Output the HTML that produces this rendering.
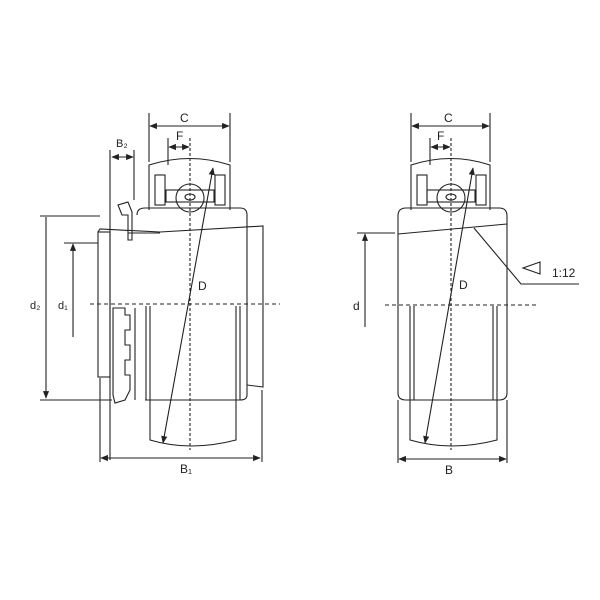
<!DOCTYPE html>
<html><head><style>body{margin:0;background:#fff}svg{display:block}text{font-family:"Liberation Sans",sans-serif;fill:#222}</style></head><body>
<svg width="600" height="600" viewBox="0 0 600 600" xmlns="http://www.w3.org/2000/svg" fill="none" stroke="#222" stroke-width="1.1">
<defs><marker id="a" viewBox="0 0 10 10" refX="9" refY="5" markerWidth="7" markerHeight="7" orient="auto-start-reverse"><path d="M0,1 L10,5 L0,9 z" fill="#222" stroke="none"/></marker></defs>

<g>
<line x1="149" y1="113" x2="149" y2="162"/><line x1="230" y1="113" x2="230" y2="162"/>
<line x1="150" y1="126" x2="229" y2="126" marker-start="url(#a)" marker-end="url(#a)"/>
<line x1="168" y1="138" x2="168" y2="165"/>
<line x1="169" y1="147" x2="189" y2="147" marker-start="url(#a)" marker-end="url(#a)"/>
<line x1="190" y1="138" x2="190" y2="450" stroke-dasharray="3,2"/>
<line x1="134" y1="150" x2="134" y2="200"/>
<line x1="112" y1="157" x2="133" y2="157" marker-start="url(#a)" marker-end="url(#a)"/>
<line x1="110" y1="150" x2="110" y2="460"/>
<path d="M149,210 L149,165 Q190,152 230,165 L230,210"/>
<rect x="155" y="175" width="10" height="30"/><rect x="215" y="175" width="10" height="30"/>
<circle cx="190" cy="198" r="14"/>
<rect x="166" y="190" width="48" height="12"/>
<ellipse cx="190" cy="197" rx="5" ry="3"/>
<path d="M137,215 Q137,208 145,208 L240,208 Q247,208 247,215 L247,395 Q247,400 240,400 L145,400"/>
<path d="M98,232 L100,229 L160,232 L263,226 L263,387 L247,385"/>
<rect x="98" y="232" width="12" height="145"/>
<path d="M120,210 L118,205 L128,202 L132,212 L132,240 L128,240 L128,215 L122,215 Z"/>
<path d="M128,233 L160,233"/>
<path d="M113,308 L125,308 L125,315 L130,315 L130,330 L125,330 L125,345 L130,345 L130,360 L125,360 L125,375 L130,375 L130,390 L125,400 L115,403 L113,395 Z"/>
<line x1="135" y1="308" x2="135" y2="400"/>
<path d="M150,306 L150,440 Q190,452 236,440 L236,306"/>
<line x1="146" y1="306" x2="146" y2="400"/><line x1="240" y1="306" x2="240" y2="400"/>
<line x1="90" y1="304" x2="280" y2="304" stroke-dasharray="4,3"/>
<line x1="163" y1="443" x2="213" y2="168" marker-start="url(#a)" marker-end="url(#a)"/>
<text x="198" y="290" font-size="12" stroke="none">D</text>
<line x1="100" y1="378" x2="100" y2="462"/><line x1="262" y1="390" x2="262" y2="462"/>
<line x1="101" y1="458" x2="260" y2="458" marker-start="url(#a)" marker-end="url(#a)"/>
<text x="180" y="473" font-size="12" stroke="none">B₁</text>
<text x="180" y="122" font-size="12" stroke="none">C</text>
<text x="176" y="140" font-size="12" stroke="none">F</text>
<text x="116" y="147" font-size="11" stroke="none">B₂</text>
<line x1="40" y1="216" x2="100" y2="216"/>
<line x1="40" y1="400" x2="112" y2="400"/>
<line x1="46" y1="217" x2="46" y2="398" marker-end="url(#a)"/>
<line x1="64" y1="243" x2="98" y2="243"/>
<line x1="73" y1="337" x2="73" y2="244" marker-end="url(#a)"/>
<text x="30" y="309" font-size="11" stroke="none">d₂</text>
<text x="58" y="309" font-size="11" stroke="none">d₁</text>
</g>

<g>
<line x1="411" y1="113" x2="411" y2="162"/><line x1="490" y1="113" x2="490" y2="162"/>
<line x1="412" y1="126" x2="489" y2="126" marker-start="url(#a)" marker-end="url(#a)"/>
<line x1="430" y1="138" x2="430" y2="165"/>
<line x1="431" y1="147" x2="450" y2="147" marker-start="url(#a)" marker-end="url(#a)"/>
<line x1="451" y1="138" x2="451" y2="450" stroke-dasharray="3,2"/>
<path d="M411,210 L411,165 Q451,152 490,165 L490,210"/>
<rect x="417" y="175" width="10" height="30"/><rect x="476" y="175" width="10" height="30"/>
<circle cx="451" cy="198" r="14"/>
<rect x="427" y="190" width="48" height="12"/>
<ellipse cx="451" cy="197" rx="5" ry="3"/>
<path d="M406,208 L499,208 Q507,208 507,216 L507,393 Q507,400 499,400 L406,400 Q398,400 398,393 L398,216 Q398,208 406,208 Z"/>
<line x1="398" y1="234" x2="507" y2="224"/>
<path d="M410,306 L410,440 Q451,452 497,440 L497,306"/>
<line x1="414" y1="306" x2="414" y2="400"/><line x1="493" y1="306" x2="493" y2="400"/>
<line x1="385" y1="305" x2="537" y2="305" stroke-dasharray="4,3"/>
<line x1="425" y1="443" x2="473" y2="168" marker-start="url(#a)" marker-end="url(#a)"/>
<text x="459" y="289" font-size="12" stroke="none">D</text>
<line x1="357" y1="233" x2="395" y2="233"/>
<line x1="365" y1="327" x2="365" y2="234" marker-end="url(#a)"/>
<text x="353" y="310" font-size="12" stroke="none">d</text>
<polyline points="474,228 521,284 579,284"/>
<path d="M540,262 L523,268 L540,274 Z"/>
<text x="552" y="277" font-size="12" stroke="none">1:12</text>
<line x1="398" y1="400" x2="398" y2="463"/><line x1="507" y1="400" x2="507" y2="463"/>
<line x1="399" y1="459" x2="506" y2="459" marker-start="url(#a)" marker-end="url(#a)"/>
<text x="445" y="474" font-size="12" stroke="none">B</text>
<text x="444" y="122" font-size="12" stroke="none">C</text>
<text x="437" y="140" font-size="12" stroke="none">F</text>
</g>
</svg>
</body></html>
